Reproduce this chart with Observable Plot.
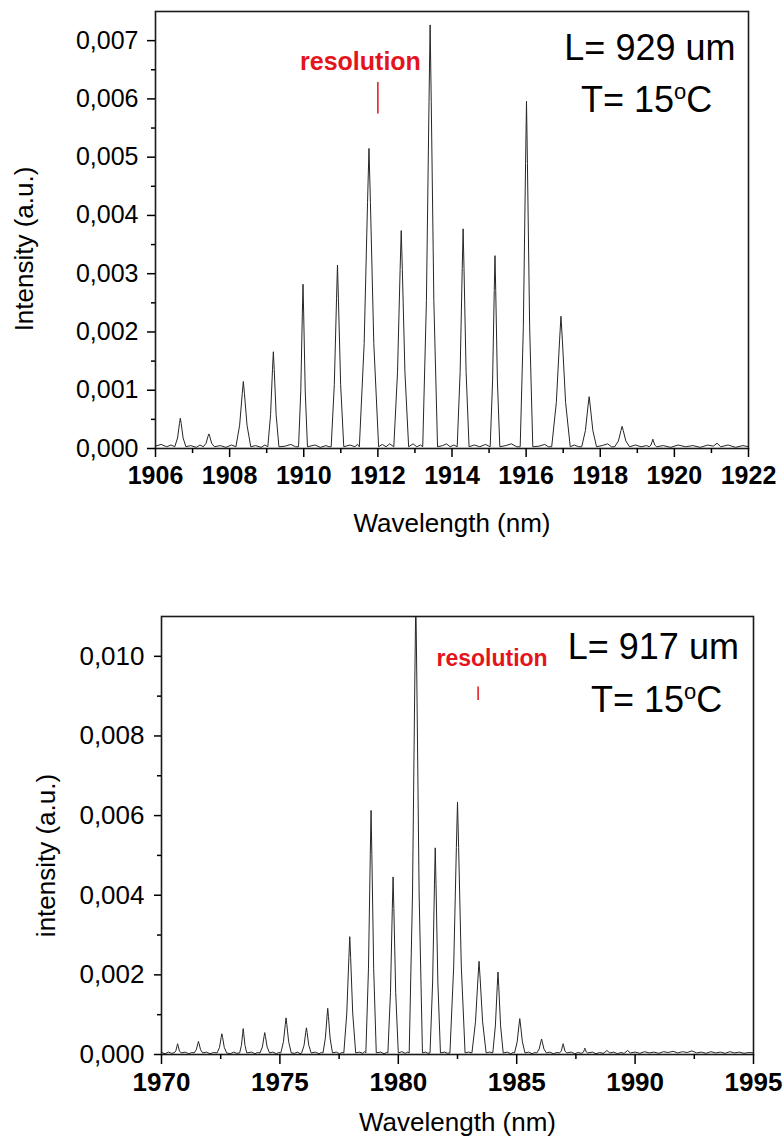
<!DOCTYPE html>
<html><head><meta charset="utf-8">
<script src="https://cdn.jsdelivr.net/npm/d3@7"></script>
<script src="https://cdn.jsdelivr.net/npm/@observablehq/plot@0.6"></script>
<style>
html,body{margin:0;padding:0;background:#fff;}
#chart svg{display:block;}
</style></head><body><div id="chart"></div>
<script>
// Spectrum, L = 929 um : [wavelength (nm), intensity (a.u.)]
const spectrum929 = [
[1906.00,0.00004],[1906.15,0.00007],[1906.30,0.00003],[1906.42,0.00006],
[1906.52,0.00003],[1906.595,0.00018],[1906.647,0.00043],[1906.67,0.00052],[1906.693,0.00043],[1906.745,0.00018],[1906.82,0.00003],
[1906.95,0.00005],[1907.10,0.00002],[1907.20,0.00006],
[1907.29,0.00003],[1907.365,0.00009],[1907.417,0.00021],[1907.44,0.00025],[1907.463,0.00021],[1907.515,0.00009],[1907.59,0.00003],
[1907.75,0.00005],[1907.90,0.00002],[1908.05,0.00006],
[1908.17,0.00003],[1908.27,0.00040],[1908.34,0.00094],[1908.37,0.00115],[1908.40,0.00094],[1908.47,0.00040],[1908.57,0.00003],
[1908.70,0.00005],[1908.85,0.00002],[1908.95,0.00006],
[1909.03,0.00003],[1909.105,0.00058],[1909.157,0.00136],[1909.18,0.00166],[1909.203,0.00136],[1909.255,0.00058],[1909.33,0.00003],
[1909.50,0.00004],[1909.65,0.00007],[1909.78,0.00003],
[1909.86,0.00003],[1909.92,0.00099],[1909.962,0.00231],[1909.98,0.00282],[1909.998,0.00231],[1910.04,0.00099],[1910.10,0.00003],
[1910.30,0.00006],[1910.45,0.00002],[1910.60,0.00005],[1910.68,0.00003],
[1910.74,0.00003],[1910.825,0.00110],[1910.885,0.00258],[1910.91,0.00315],[1910.935,0.00258],[1910.995,0.00110],[1911.08,0.00003],
[1911.25,0.00006],[1911.38,0.00003],[1911.45,0.00007],
[1911.50,0.00003],[1911.63,0.00180],[1911.721,0.00422],[1911.76,0.00515],[1911.799,0.00422],[1911.89,0.00180],[1912.02,0.00003],
[1912.12,0.00007],[1912.22,0.00003],[1912.32,0.00008],
[1912.43,0.00003],[1912.53,0.00131],[1912.60,0.00307],[1912.63,0.00374],[1912.66,0.00307],[1912.73,0.00131],[1912.83,0.00003],
[1912.95,0.00008],[1913.05,0.00003],[1913.15,0.00006],
[1913.21,0.00003],[1913.31,0.00254],[1913.38,0.00596],[1913.41,0.00727],[1913.44,0.00596],[1913.51,0.00254],[1913.61,0.00003],
[1913.75,0.00005],[1913.85,0.00008],[1913.95,0.00003],[1914.05,0.00006],
[1914.14,0.00003],[1914.22,0.00132],[1914.276,0.00309],[1914.30,0.00377],[1914.324,0.00309],[1914.38,0.00132],[1914.46,0.00003],
[1914.60,0.00006],[1914.75,0.00003],[1914.90,0.00007],
[1915.03,0.00003],[1915.095,0.00116],[1915.14,0.00271],[1915.16,0.00331],[1915.18,0.00271],[1915.225,0.00116],[1915.29,0.00003],
[1915.45,0.00005],[1915.60,0.00008],[1915.75,0.00003],
[1915.84,0.00003],[1915.925,0.00209],[1915.985,0.00489],[1916.01,0.00596],[1916.035,0.00489],[1916.095,0.00209],[1916.18,0.00003],
[1916.35,0.00004],[1916.50,0.00007],[1916.60,0.00003],
[1916.69,0.00003],[1916.815,0.00079],[1916.903,0.00186],[1916.94,0.00227],[1916.978,0.00186],[1917.065,0.00079],[1917.19,0.00003],
[1917.30,0.00006],[1917.42,0.00003],
[1917.50,0.00003],[1917.60,0.00031],[1917.67,0.00073],[1917.70,0.00089],[1917.73,0.00073],[1917.80,0.00031],[1917.90,0.00003],
[1918.05,0.00005],[1918.20,0.00008],[1918.30,0.00003],
[1918.39,0.00003],[1918.49,0.00013],[1918.56,0.00031],[1918.59,0.00038],[1918.62,0.00031],[1918.69,0.00013],[1918.79,0.00003],
[1918.95,0.00006],[1919.10,0.00003],[1919.25,0.00005],
[1919.32,0.00003],[1919.37,0.00006],[1919.405,0.00013],[1919.42,0.00016],[1919.435,0.00013],[1919.47,0.00006],[1919.52,0.00003],
[1919.70,0.00005],[1919.90,0.00002],[1920.10,0.00006],[1920.30,0.00003],[1920.50,0.00005],[1920.70,0.00002],[1920.90,0.00006],
[1921.05,0.00004],[1921.15,0.00009],[1921.25,0.00003],[1921.45,0.00006],[1921.65,0.00002],[1921.85,0.00005],[1922.00,0.00003]
];

// Spectrum, L = 917 um : [wavelength (nm), intensity (a.u.)]
const spectrum917 = [
[1970.00,0.00005],[1970.15,0.00002],[1970.30,0.00006],[1970.42,0.00003],
[1970.53,0.00004],[1970.605,0.00009],[1970.658,0.00022],[1970.68,0.00027],[1970.703,0.00022],[1970.755,0.00009],[1970.83,0.00004],
[1971.00,0.00006],[1971.15,0.00002],[1971.28,0.00005],
[1971.38,0.00004],[1971.47,0.00012],[1971.533,0.00027],[1971.56,0.00033],[1971.587,0.00027],[1971.65,0.00012],[1971.74,0.00004],
[1971.90,0.00006],[1972.05,0.00002],[1972.20,0.00005],
[1972.35,0.00004],[1972.45,0.00018],[1972.52,0.00043],[1972.55,0.00052],[1972.58,0.00043],[1972.65,0.00018],[1972.75,0.00004],
[1972.90,0.00002],[1973.05,0.00006],[1973.18,0.00003],
[1973.30,0.00004],[1973.375,0.00023],[1973.428,0.00053],[1973.45,0.00065],[1973.473,0.00053],[1973.525,0.00023],[1973.60,0.00004],
[1973.80,0.00006],[1973.95,0.00002],[1974.05,0.00005],
[1974.16,0.00004],[1974.26,0.00019],[1974.33,0.00045],[1974.36,0.00055],[1974.39,0.00045],[1974.46,0.00019],[1974.56,0.00004],
[1974.70,0.00006],[1974.85,0.00002],[1974.95,0.00005],
[1975.04,0.00004],[1975.15,0.00032],[1975.227,0.00075],[1975.26,0.00092],[1975.293,0.00075],[1975.37,0.00032],[1975.48,0.00004],
[1975.62,0.00003],[1975.75,0.00006],[1975.85,0.00002],
[1975.92,0.00004],[1976.02,0.00023],[1976.09,0.00055],[1976.12,0.00067],[1976.15,0.00055],[1976.22,0.00023],[1976.32,0.00004],
[1976.50,0.00006],[1976.65,0.00002],[1976.75,0.00005],
[1976.82,0.00004],[1976.92,0.00041],[1976.99,0.00095],[1977.02,0.00116],[1977.05,0.00095],[1977.12,0.00041],[1977.22,0.00004],
[1977.38,0.00006],[1977.52,0.00002],[1977.62,0.00005],
[1977.70,0.00004],[1977.825,0.00104],[1977.913,0.00243],[1977.95,0.00296],[1977.988,0.00243],[1978.075,0.00104],[1978.20,0.00004],
[1978.35,0.00006],[1978.50,0.00003],[1978.58,0.00007],
[1978.63,0.00004],[1978.74,0.00215],[1978.817,0.00503],[1978.85,0.00613],[1978.883,0.00503],[1978.96,0.00215],[1979.07,0.00004],
[1979.25,0.00006],[1979.40,0.00002],[1979.50,0.00005],
[1979.56,0.00004],[1979.67,0.00156],[1979.747,0.00366],[1979.78,0.00446],[1979.813,0.00366],[1979.89,0.00156],[1980.00,0.00004],
[1980.15,0.00007],[1980.30,0.00003],[1980.40,0.00006],
[1980.46,0.00004],[1980.60,0.00403],[1980.698,0.00943],[1980.74,0.01150],[1980.782,0.00943],[1980.88,0.00403],[1981.02,0.00004],
[1981.15,0.00006],[1981.25,0.00003],
[1981.34,0.00004],[1981.45,0.00182],[1981.527,0.00426],[1981.56,0.00519],[1981.593,0.00426],[1981.67,0.00182],[1981.78,0.00004],
[1981.95,0.00006],[1982.08,0.00003],
[1982.18,0.00004],[1982.34,0.00222],[1982.452,0.00520],[1982.50,0.00634],[1982.548,0.00520],[1982.66,0.00222],[1982.82,0.00004],
[1982.96,0.00006],
[1983.11,0.00004],[1983.26,0.00082],[1983.365,0.00192],[1983.41,0.00234],[1983.455,0.00192],[1983.56,0.00082],[1983.71,0.00004],
[1983.85,0.00006],
[1983.99,0.00004],[1984.10,0.00072],[1984.177,0.00170],[1984.21,0.00207],[1984.243,0.00170],[1984.32,0.00072],[1984.43,0.00004],
[1984.60,0.00006],[1984.75,0.00002],[1984.85,0.00005],
[1984.91,0.00004],[1985.02,0.00032],[1985.097,0.00074],[1985.13,0.00090],[1985.163,0.00074],[1985.24,0.00032],[1985.35,0.00004],
[1985.50,0.00006],[1985.65,0.00002],[1985.75,0.00005],
[1985.85,0.00004],[1985.95,0.00014],[1986.02,0.00032],[1986.05,0.00039],[1986.08,0.00032],[1986.15,0.00014],[1986.25,0.00004],
[1986.40,0.00006],[1986.55,0.00002],[1986.70,0.00005],
[1986.81,0.00004],[1986.885,0.00009],[1986.938,0.00022],[1986.96,0.00027],[1986.983,0.00022],[1987.035,0.00009],[1987.11,0.00004],
[1987.30,0.00006],[1987.45,0.00002],[1987.60,0.00005],[1987.72,0.00003],
[1987.76,0.00004],[1987.82,0.00006],[1987.862,0.00013],[1987.88,0.00016],[1987.898,0.00013],[1987.94,0.00006],[1988.00,0.00004],
[1988.20,0.00006],[1988.35,0.00002],[1988.50,0.00005],[1988.65,0.00003],
[1988.69,0.00004],[1988.81,0.00010],[1988.93,0.00004],
[1989.10,0.00006],[1989.25,0.00002],[1989.40,0.00005],[1989.52,0.00003],
[1989.56,0.00004],[1989.68,0.00010],[1989.80,0.00004],
[1990.00,0.00006],[1990.20,0.00003],[1990.40,0.00007],[1990.60,0.00004],[1990.80,0.00006],[1991.00,0.00003],[1991.20,0.00007],
[1991.40,0.00005],[1991.60,0.00008],[1991.80,0.00004],[1992.00,0.00007],[1992.20,0.00005],[1992.40,0.00009],[1992.60,0.00004],
[1992.80,0.00006],[1993.00,0.00003],[1993.20,0.00007],[1993.40,0.00004],[1993.60,0.00006],[1993.80,0.00003],[1994.00,0.00007],
[1994.20,0.00004],[1994.40,0.00006],[1994.60,0.00003],[1994.80,0.00005],[1995.00,0.00004]
];

// Ticks
const xTicks929 = [1906,1908,1910,1912,1914,1916,1918,1920,1922];
const xMinor929 = [1907,1909,1911,1913,1915,1917,1919,1921];
const yTicks929 = [0,0.001,0.002,0.003,0.004,0.005,0.006,0.007];
const yMinor929 = [0.0005,0.0015,0.0025,0.0035,0.0045,0.0055,0.0065];
const xTicks917 = [1970,1975,1980,1985,1990,1995];
const xMinor917 = [1972.5,1977.5,1982.5,1987.5,1992.5];
const yTicks917 = [0,0.002,0.004,0.006,0.008,0.010];
const yMinor917 = [0.001,0.003,0.005,0.007,0.009];

// Texts
const labels929 = ["L= 929 um", "T= 15oC", "resolution", "Intensity (a.u.)", "Wavelength (nm)"];
const labels917 = ["L= 917 um", "T= 15oC", "resolution", "intensity (a.u.)", "Wavelength (nm)"];
// Resolution marker wavelength
const resolution929 = [1912.0];
const resolution917 = [1983.37];

const FONT = "'Liberation Sans', Arial, Helvetica, sans-serif";
const RED = "#e3141c";
const fmt = d => d3.format(".3f")(d).replace(".", ",");
const fmtX = d => String(d);
const txt = d => d;

const plotTop = Plot.plot({
  width: 784, height: 580,
  marginTop: 11, marginRight: 36, marginBottom: 132, marginLeft: 155,
  style: {fontFamily: FONT, fontSize: "25px", color: "#000", background: "#fff", overflow: "visible"},
  x: {domain: [1906, 1922]},
  y: {domain: [0, 0.0075]},
  marks: [
    Plot.line(spectrum929, {x: d => d[0], y: d => d[1], stroke: "#262626", strokeWidth: 1, clip: true}),
    Plot.frame({stroke: "#1a1a1a", strokeWidth: 1.6}),
    Plot.axisX({ticks: xMinor929, tickSize: 5, tickFormat: () => "", label: null, strokeWidth: 1.5}),
    Plot.axisX({ticks: xTicks929, tickSize: 9, tickPadding: 9, tickFormat: fmtX, fontSize: 25, fontWeight: "bold", label: null, strokeWidth: 1.5}),
    Plot.axisY({ticks: yMinor929, tickSize: 4, tickFormat: () => "", label: null, strokeWidth: 1.5}),
    Plot.axisY({ticks: yTicks929, tickSize: 8, tickPadding: 9, tickFormat: fmt, fontSize: 25, label: null, strokeWidth: 1.5}),
    Plot.text([labels929[4]], {text: txt, frameAnchor: "bottom", dy: 83, lineAnchor: "bottom", fontSize: 26}),
    Plot.text([labels929[3]], {text: txt, frameAnchor: "left", rotate: -90, dx: -123, dy: 19, lineAnchor: "bottom", textAnchor: "middle", fontSize: 26}),
    Plot.text([labels929[0]], {text: txt, x: 1919.34, y: 0.00667, lineAnchor: "bottom", fontSize: 36}),
    Plot.text([labels929[1]], {text: txt, x: 1919.25, y: 0.00577, lineAnchor: "bottom", fontSize: 36}),
    Plot.text([labels929[2]], {text: txt, x: 1911.53, y: 0.0065, lineAnchor: "bottom", fontSize: 25, fontWeight: "bold", fill: RED}),
    Plot.ruleX(resolution929, {x: d => d, y1: 0.00574, y2: 0.00628, stroke: RED, strokeWidth: 1.5})
  ]
});

const plotBottom = Plot.plot({
  width: 784, height: 560,
  marginTop: 36, marginRight: 31, marginBottom: 86, marginLeft: 161,
  style: {fontFamily: FONT, fontSize: "25px", color: "#000", background: "#fff", overflow: "visible"},
  x: {domain: [1970, 1995]},
  y: {domain: [0, 0.011]},
  marks: [
    Plot.line(spectrum917, {x: d => d[0], y: d => d[1], stroke: "#262626", strokeWidth: 1, clip: true}),
    Plot.frame({stroke: "#1a1a1a", strokeWidth: 1.6}),
    Plot.axisX({ticks: xMinor917, tickSize: 5, tickFormat: () => "", label: null, strokeWidth: 1.5}),
    Plot.axisX({ticks: xTicks917, tickSize: 10, tickPadding: 8, tickFormat: fmtX, fontSize: 26, fontWeight: "bold", label: null, strokeWidth: 1.5}),
    Plot.axisY({ticks: yMinor917, tickSize: 4, tickFormat: () => "", label: null, strokeWidth: 1.5}),
    Plot.axisY({ticks: yTicks917, tickSize: 7, tickPadding: 10, tickFormat: fmt, fontSize: 26, label: null, strokeWidth: 1.5}),
    Plot.text([labels917[4]], {text: txt, frameAnchor: "bottom", dy: 76, lineAnchor: "bottom", fontSize: 26}),
    Plot.text([labels917[3]], {text: txt, frameAnchor: "left", rotate: -90, dx: -107, dy: 20, lineAnchor: "bottom", textAnchor: "middle", fontSize: 26}),
    Plot.text([labels917[0]], {text: txt, x: 1990.77, y: 0.00994, lineAnchor: "bottom", fontSize: 36}),
    Plot.text([labels917[1]], {text: txt, x: 1990.91, y: 0.0086, lineAnchor: "bottom", fontSize: 36}),
    Plot.text([labels917[2]], {text: txt, x: 1983.96, y: 0.00975, lineAnchor: "bottom", fontSize: 23, fontWeight: "bold", fill: RED}),
    Plot.ruleX(resolution917, {x: d => d, y1: 0.00889, y2: 0.00923, stroke: RED, strokeWidth: 1.5})
  ]
});

// superscript "o" in the temperature labels
function superO(svg) {
  const ns = "http://www.w3.org/2000/svg";
  svg.querySelectorAll("text").forEach(t => {
    if (t.textContent === "T= 15oC") {
      while (t.firstChild) t.removeChild(t.firstChild);
      const a = document.createElementNS(ns, "tspan"); a.textContent = "T= 15";
      const b = document.createElementNS(ns, "tspan"); b.textContent = "o";
      b.setAttribute("font-size", "22"); b.setAttribute("dy", "-13");
      const c = document.createElementNS(ns, "tspan"); c.textContent = "C"; c.setAttribute("dy", "13");
      t.append(a, b, c);
    }
  });
}
superO(plotTop); superO(plotBottom);

document.getElementById("chart").append(plotTop, plotBottom);
</script>
</body></html>
